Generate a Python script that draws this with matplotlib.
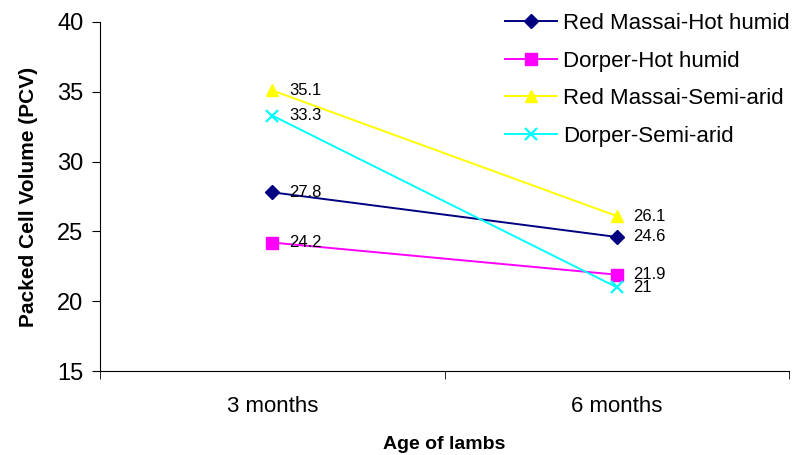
import matplotlib.pyplot as plt

plt.rcParams["font.family"] = ["Liberation Sans", "DejaVu Sans"]

ages = ["3 months", "6 months"]
red_massai_hot_humid = [27.8, 24.6]
dorper_hot_humid = [24.2, 21.9]
red_massai_semi_arid = [35.1, 26.1]
dorper_semi_arid = [33.3, 21.0]

series = [
    ("Red Massai-Hot humid", red_massai_hot_humid, "#000080", "D", 7),
    ("Dorper-Hot humid", dorper_hot_humid, "#ff00ff", "s", 8),
    ("Red Massai-Semi-arid", red_massai_semi_arid, "#ffff00", "^", 9),
    ("Dorper-Semi-arid", dorper_semi_arid, "#00ffff", "x", 9),
]

fig = plt.figure(figsize=(8.06, 4.55), dpi=100)
ax = fig.add_axes([100 / 806, 1 - 371 / 455, 689 / 806, 349 / 455])

xs = [0.5, 1.5]
for label, values, color, marker, size in series:
    ax.plot(xs, values, color=color, marker=marker, markersize=size, linewidth=1.4,
            markeredgewidth=1.6 if marker == "x" else 1.0, label=label)
    for x, v in zip(xs, values):
        ax.annotate(f"{v:g}", (x, v), xytext=(12, 0), textcoords="offset points",
                    ha="left", va="center", fontsize=12, color="black")

ax.set_xlim(0, 2)
ax.set_ylim(15, 40)
ax.set_yticks([15, 20, 25, 30, 35, 40])
ax.set_xticks(xs)
ax.set_xticklabels(ages)
ax.set_xticks([0, 1, 2], minor=True)
ax.tick_params(axis="x", which="major", length=0, labelsize=16, pad=18)
ax.tick_params(axis="x", which="minor", length=6, direction="out")
ax.tick_params(axis="y", length=6, labelsize=17, pad=6)
for side in ("top", "right"):
    ax.spines[side].set_visible(False)

ax.set_ylabel("Packed Cell Volume (PCV)", fontsize=15, fontweight="bold", labelpad=14)
ax.set_xlabel("Age of lambs", fontsize=14, fontweight="bold", labelpad=14)

fig.legend(loc="upper left", bbox_to_anchor=(496 / 806, 1 - 4 / 455), frameon=False,
           fontsize=16, handlelength=2.35, handletextpad=0.27, labelspacing=0.75,
           borderaxespad=0)

fig.savefig("out.png", dpi=100)
